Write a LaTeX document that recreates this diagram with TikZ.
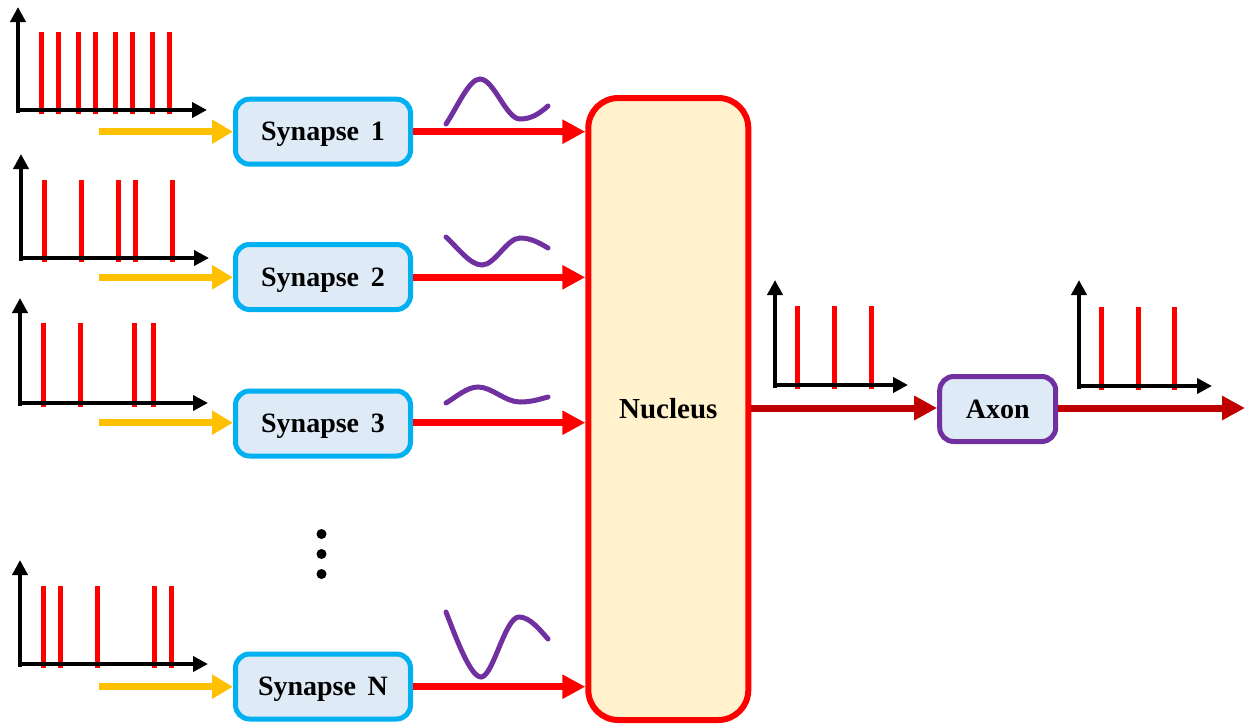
\documentclass[tikz,border=0pt]{standalone}
\usepackage{fontspec}
\setmainfont{Liberation Serif}
\usetikzlibrary{arrows.meta}
\definecolor{synfill}{RGB}{222,235,247}
\definecolor{synline}{RGB}{0,176,240}
\definecolor{nucfill}{RGB}{255,242,204}
\definecolor{axline}{RGB}{112,48,160}
\definecolor{wavecol}{RGB}{112,48,160}
\definecolor{inarrow}{RGB}{255,192,0}
\definecolor{outarrow}{RGB}{192,0,0}
\tikzset{
  synbox/.style={draw=synline, fill=synfill, line width=5pt, rounded corners=14pt,
    minimum width=175pt, minimum height=65pt, inner sep=0pt, text depth=0pt,
    font=\fontsize{28}{32}\selectfont\bfseries},
  nucbox/.style={draw=red, fill=nucfill, line width=6pt, rounded corners=30pt,
    minimum width=160pt, minimum height=622pt, inner sep=0pt,
    font=\fontsize{29}{32}\selectfont\bfseries},
  axbox/.style={draw=axline, fill=synfill, line width=5pt, rounded corners=14pt,
    minimum width=116pt, minimum height=65pt, inner sep=0pt,
    font=\fontsize{28}{32}\selectfont\bfseries},
  inarr/.style={draw=inarrow, line width=7pt, -{Triangle[length=21pt,width=23pt]}},
  redarr/.style={draw=red, line width=7pt, -{Triangle[length=23pt,width=23pt]}},
  outarr/.style={draw=outarrow, line width=7pt, -{Triangle[length=23pt,width=23pt]}},
  axisline/.style={draw=black, line width=4pt, -{Triangle[length=15pt,width=15pt]}},
  spike/.style={draw=red, line width=5pt},
  wave/.style={draw=wavecol, line width=5pt, line cap=round},
  dot/.style={circle, fill=black, minimum size=10pt, inner sep=0pt},
}
% #1 y-axis x, #2 x-axis y, #3 y-axis top, #4 x-axis end, #5 spike top, #6 spike list
\newcommand{\spiketrain}[6]{%
  \foreach \sx in {#6} {\draw[spike] (\sx,#5) -- (\sx,#2+4);}
  \draw[axisline] (#1,#2+3) -- (#1,#3);
  \draw[axisline] (#1-2,#2) -- (#4,#2);
}
\begin{document}
\begin{tikzpicture}[x=1pt,y=-1pt]
\useasboundingbox (0,0) rectangle (1246,723);

% spike trains
\spiketrain{18}{110}{7}{207}{32}{41,58,78,95,115,132,152,169}
\spiketrain{21}{258}{154}{209}{180}{44,81,118,135,172}
\spiketrain{20}{403}{298}{208}{323}{43,80,134,153}
\spiketrain{20}{664}{560}{208}{586}{43,60,97,154,171}
\spiketrain{775}{385}{280}{908}{306}{797,834,871}
\spiketrain{1079}{386}{280}{1212}{307}{1101,1138,1174}

% nodes
\node[nucbox] (nuc) at (668.3,409) {Nucleus};
\node[synbox] (s1) at (323,131.7) {Synapse\, 1};
\node[synbox] (s2) at (323,277) {Synapse\, 2};
\node[synbox] (s3) at (323,423.5) {Synapse\, 3};
\node[synbox] (sn) at (323,686.5) {Synapse\, N};
\node[axbox] (axon) at (997.7,409) {Axon};

\node[dot] (d1) at (321.5,534) {};
\node[dot] (d2) at (321.5,554) {};
\node[dot] (d3) at (321.5,574) {};

% input coordinates
\coordinate (i1) at (99,131.7);
\coordinate (i2) at (99,277.3);
\coordinate (i3) at (99,422.7);
\coordinate (in) at (99,686.7);
\coordinate (out) at (1246,408);

\draw[inarr] (i1) -- (s1.west |- i1);
\draw[inarr] (i2) -- (s2.west |- i2);
\draw[inarr] (i3) -- (s3.west |- i3);
\draw[inarr] (in) -- (sn.west |- in);

\draw[redarr] (s1.east |- i1) -- (nuc.west |- i1);
\draw[redarr] (s2.east |- i2) -- (nuc.west |- i2);
\draw[redarr] (s3.east |- i3) -- (nuc.west |- i3);
\draw[redarr] (sn.east |- in) -- (nuc.west |- in);

\draw[outarr] (nuc.east |- out) -- (axon.west |- out);
\draw[outarr] (axon.east |- out) -- ([xshift=-1pt]out);

% waves
\draw[wave] (446,124) .. controls (458,106) and (469,79) .. (480,79)
  .. controls (494,79) and (506,119) .. (520,119)
  .. controls (532,119) and (540,113) .. (548,106);
\draw[wave] (446,237) .. controls (458,248) and (470,265) .. (482,265)
  .. controls (495,265) and (507,238) .. (520,238)
  .. controls (532,238) and (541,244) .. (548,248);
\draw[wave] (446,403) .. controls (456,397) and (467,387) .. (478,387)
  .. controls (492,387) and (505,402) .. (520,402)
  .. controls (532,402) and (540,399) .. (548,397);
\draw[wave] (446,612) .. controls (455,635) and (470,677) .. (481,677)
  .. controls (493,677) and (505,617) .. (519,617)
  .. controls (530,617) and (540,630) .. (548,639);
\end{tikzpicture}
\end{document}
